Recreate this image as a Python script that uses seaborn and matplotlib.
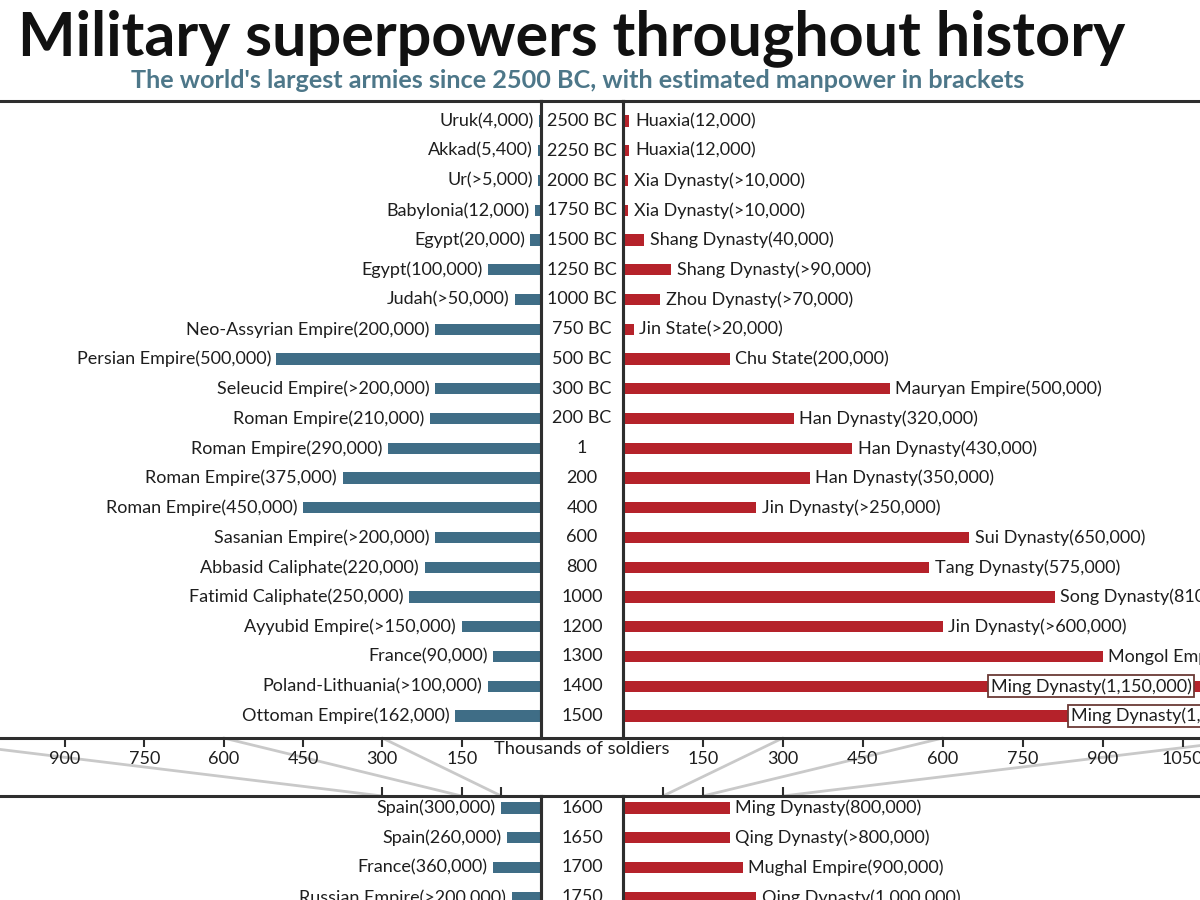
import matplotlib
matplotlib.use("Agg")
import matplotlib.pyplot as plt
from matplotlib.patches import ConnectionPatch
import seaborn as sns
import pandas as pd

# ---------------- data ----------------
years_top = ["2500 BC", "2250 BC", "2000 BC", "1750 BC", "1500 BC", "1250 BC", "1000 BC",
             "750 BC", "500 BC", "300 BC", "200 BC", "1", "200", "400", "600", "800",
             "1000", "1200", "1300", "1400", "1500"]
west_top_labels = ["Uruk(4,000)", "Akkad(5,400)", "Ur(>5,000)", "Babylonia(12,000)", "Egypt(20,000)",
                   "Egypt(100,000)", "Judah(>50,000)", "Neo-Assyrian Empire(200,000)",
                   "Persian Empire(500,000)", "Seleucid Empire(>200,000)", "Roman Empire(210,000)",
                   "Roman Empire(290,000)", "Roman Empire(375,000)", "Roman Empire(450,000)",
                   "Sasanian Empire(>200,000)", "Abbasid Caliphate(220,000)",
                   "Fatimid Caliphate(250,000)", "Ayyubid Empire(>150,000)", "France(90,000)",
                   "Poland-Lithuania(>100,000)", "Ottoman Empire(162,000)"]
west_top_values = [4, 5.4, 5, 12, 20, 100, 50, 200, 500, 200, 210, 290, 375, 450, 200, 220,
                   250, 150, 90, 100, 162]
east_top_labels = ["Huaxia(12,000)", "Huaxia(12,000)", "Xia Dynasty(>10,000)", "Xia Dynasty(>10,000)",
                   "Shang Dynasty(40,000)", "Shang Dynasty(>90,000)", "Zhou Dynasty(>70,000)",
                   "Jin State(>20,000)", "Chu State(200,000)", "Mauryan Empire(500,000)",
                   "Han Dynasty(320,000)", "Han Dynasty(430,000)", "Han Dynasty(350,000)",
                   "Jin Dynasty(>250,000)", "Sui Dynasty(650,000)", "Tang Dynasty(575,000)",
                   "Song Dynasty(810,000)", "Jin Dynasty(>600,000)", "Mongol Empire(900,000)",
                   "Ming Dynasty(1,150,000)", "Ming Dynasty(1,300,000)"]
east_top_values = [12, 12, 10, 10, 40, 90, 70, 20, 200, 500, 320, 430, 350, 250, 650, 575,
                   810, 600, 900, 1150, 1300]

years_bottom = ["1600", "1650", "1700", "1750"]
west_bottom_labels = ["Spain(300,000)", "Spain(260,000)", "France(360,000)", "Russian Empire(>200,000)"]
west_bottom_values = [300, 260, 360, 220]
east_bottom_labels = ["Ming Dynasty(800,000)", "Qing Dynasty(>800,000)", "Mughal Empire(900,000)",
                      "Qing Dynasty(1,000,000)"]
east_bottom_values = [800, 800, 900, 1000]

axis_ticks = [150, 300, 450, 600, 750, 900, 1050]
zoom_ticks = [300, 600, 1200]          # thousands; lower panel drawn at 1/4 scale
boxed_rows = {"1400": 690, "1500": 840}  # label anchor (thousands) for boxed labels

# ---------------- style ----------------
sns.set_theme(style="white")
plt.rcParams["font.family"] = ["Lato", "DejaVu Sans"]

BLUE = "#3f6d86"
RED = "#b5222a"
DARK = "#1e1e1e"
FRAME = "#2e2e2e"
SUB = "#4d7789"

W, H = 1200, 900
fig = plt.figure(figsize=(12, 9), dpi=100)


def px_axes(x0, x1, y0, y1):
    return fig.add_axes([x0 / W, 1 - y1 / H, (x1 - x0) / W, (y1 - y0) / H])


XL, XC, XR = 541, 623, 1200
Y_TOP, Y_BAND0, Y_BAND1, Y_BOT = 101, 738, 796, 900
ROW = 29.75

ax_lt = px_axes(0, XL, Y_TOP, Y_BAND0)
ax_ct = px_axes(XL, XC, Y_TOP, Y_BAND0)
ax_rt = px_axes(XC, XR, Y_TOP, Y_BAND0)
ax_lb = px_axes(0, XL, Y_BAND1, Y_BOT)
ax_cb = px_axes(XL, XC, Y_BAND1, Y_BOT)
ax_rb = px_axes(XC, XR, Y_BAND1, Y_BOT)

PXK_L = 0.529
PXK_R = 0.533
left_lim = XL / PXK_L
right_lim = (XR - XC) / PXK_R

top_ylim = (20 + (Y_BAND0 - 716) / ROW, -(121 - Y_TOP) / ROW)
bot_ylim = (-(808 - Y_BAND1) / ROW + (Y_BOT - Y_BAND1) / ROW, -(808 - Y_BAND1) / ROW)

LABEL_FS = 13.0
BAR_W = 0.38


def draw_bars(ax, years, values, color):
    df = pd.DataFrame({"year": years, "val": values})
    sns.barplot(data=df, x="val", y="year", orient="h", color=color, width=BAR_W,
                saturation=1, ax=ax, edgecolor="none")
    ax.set_xlabel("")
    ax.set_ylabel("")
    ax.set_yticks([])


def label_bars(ax, years, values, labels, side, boxed=None):
    for i, (y, v, lab) in enumerate(zip(years, values, labels)):
        if boxed and y in boxed:
            ax.text(boxed[y], i, lab, ha="left", va="center", fontsize=LABEL_FS, color=DARK,
                    bbox=dict(boxstyle="square,pad=0.15", fc="white", ec="#6b3a36", lw=1.3),
                    zorder=5, clip_on=False)
            continue
        off = -4 if side == "left" else 4
        ax.annotate(lab, xy=(v, i), xytext=(off, 0), textcoords="offset points",
                    ha="right" if side == "left" else "left", va="center",
                    fontsize=LABEL_FS, color=DARK, annotation_clip=False)


# top panels
draw_bars(ax_lt, years_top, west_top_values, BLUE)
draw_bars(ax_rt, years_top, east_top_values, RED)
label_bars(ax_lt, years_top, west_top_values, west_top_labels, "left")
label_bars(ax_rt, years_top, east_top_values, east_top_labels, "right", boxed_rows)

# bottom panels (1/4 scale)
draw_bars(ax_lb, years_bottom, west_bottom_values, BLUE)
draw_bars(ax_rb, years_bottom, east_bottom_values, RED)
label_bars(ax_lb, years_bottom, west_bottom_values, west_bottom_labels, "left")
label_bars(ax_rb, years_bottom, east_bottom_values, east_bottom_labels, "right")

# axis ticks (top panels: labelled at the bottom)
for ax in (ax_lt, ax_rt):
    ax.set_xticks(axis_ticks)
    ax.set_xticklabels([str(t) for t in axis_ticks])
    ax.tick_params(axis="x", bottom=True, direction="out", length=6.5, width=1.5,
                   color=FRAME, labelsize=13, labelcolor=DARK, pad=2.5)

# lower panel ticks (top side, no labels)
for ax in (ax_lb, ax_rb):
    ax.xaxis.tick_top()
    ax.set_xticks(zoom_ticks)
    ax.set_xticklabels([])
    ax.tick_params(axis="x", top=True, bottom=False, direction="out", length=6.5,
                   width=1.5, color=FRAME)

# limits (after ticks so they are not expanded)
ax_lt.set_xlim(left_lim, 0)
ax_rt.set_xlim(0, right_lim)
ax_lb.set_xlim(left_lim * 4, 0)
ax_rb.set_xlim(0, right_lim * 4)
for ax in (ax_lt, ax_ct, ax_rt):
    ax.set_ylim(*top_ylim)
for ax in (ax_lb, ax_cb, ax_rb):
    ax.set_ylim(*bot_ylim)

# center year columns
for ax, years in ((ax_ct, years_top), (ax_cb, years_bottom)):
    ax.set_xlim(0, 1)
    ax.set_xticks([])
    ax.set_yticks([])
    for i, y in enumerate(years):
        ax.text(0.5, i, y, ha="center", va="center", fontsize=13, color=DARK)

# spines
for ax in (ax_lt, ax_ct, ax_rt, ax_lb, ax_cb, ax_rb):
    for s in ax.spines.values():
        s.set_color(FRAME)
        s.set_linewidth(2.2)
        s.set_visible(True)
    ax.set_facecolor("none")
    ax.grid(False)

ax_lt.spines["left"].set_visible(False)
ax_rt.spines["right"].set_visible(False)
ax_lb.spines["left"].set_visible(False)
ax_rb.spines["right"].set_visible(False)
for ax in (ax_lb, ax_cb, ax_rb):
    ax.spines["bottom"].set_visible(False)

# connecting lines between scales
for top_ax, bot_ax in ((ax_lt, ax_lb), (ax_rt, ax_rb)):
    for t in zoom_ticks:
        con = ConnectionPatch(xyA=(t, 0), coordsA=top_ax.get_xaxis_transform(),
                              xyB=(t, 1), coordsB=bot_ax.get_xaxis_transform(),
                              color="#c9c9c9", lw=2.0, zorder=0)
        fig.add_artist(con)

fig.text((XL + XC) / 2 / W, 1 - 749 / H, "Thousands of soldiers", ha="center", va="center",
         fontsize=13.2, color=DARK)

# titles
fig.text(572 / W, 1 - 55 / H, "Military superpowers throughout history", ha="center",
         va="baseline", fontsize=44, fontweight="bold", color="#111111")
fig.text(578 / W, 1 - 80 / H,
         "The world's largest armies since 2500 BC, with estimated manpower in brackets",
         ha="center", va="center", fontsize=18.2, fontweight="bold", color=SUB)

fig.savefig("out.png", dpi=100)
